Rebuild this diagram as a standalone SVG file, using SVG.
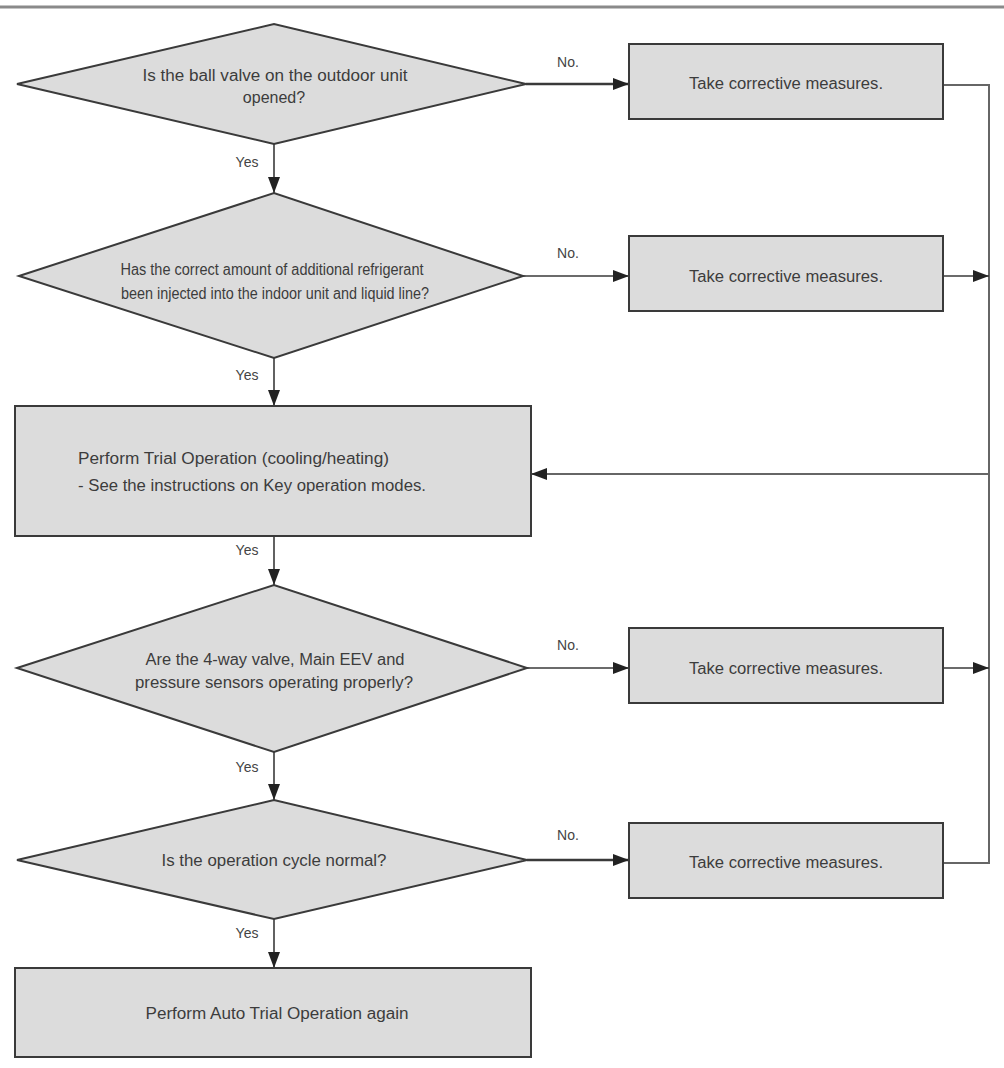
<svg xmlns="http://www.w3.org/2000/svg" width="1004" height="1068" viewBox="0 0 1004 1068">
<style>
.shape{fill:#dcdcdc;stroke:#3a3a3a;stroke-width:2}
.t{font-family:"Liberation Sans",Arial,sans-serif;font-size:16px;fill:#3c3c3c}
.c{text-anchor:middle}
.lbl{font-family:"Liberation Sans",Arial,sans-serif;font-size:14px;fill:#444;text-anchor:middle}
.ln{fill:none;stroke:#3a3a3a;stroke-width:1.6}
.thick{stroke-width:2.6}
.gray{stroke:#666;stroke-width:2}
</style>
<defs>
<marker id="ah" viewBox="0 0 16 12" refX="16" refY="6" markerWidth="16" markerHeight="12" markerUnits="userSpaceOnUse" orient="auto">
<path d="M0,0 L16,6 L0,12 Z" fill="#222"/>
</marker>
</defs>
<rect width="1004" height="1068" fill="#ffffff"/>
<line x1="0" y1="7" x2="1004" y2="7" stroke="#8a8a8a" stroke-width="3"/>

<g id="connectors">
<line class="ln" x1="274" y1="144" x2="274" y2="193" marker-end="url(#ah)"/>
<line class="ln thick" x1="526" y1="84" x2="629" y2="84" marker-end="url(#ah)"/>
<line class="ln" x1="523" y1="276" x2="629" y2="276" marker-end="url(#ah)"/>
<line class="ln" x1="274" y1="358" x2="274" y2="406" marker-end="url(#ah)"/>
<polyline class="ln gray" points="943,85 989,85 989,863 943,863"/>
<line class="ln" x1="943" y1="276" x2="989" y2="276" marker-end="url(#ah)"/>
<line class="ln" x1="943" y1="668" x2="989" y2="668" marker-end="url(#ah)"/>
<line class="ln gray" x1="989" y1="474" x2="531" y2="474" marker-end="url(#ah)"/>
<line class="ln" x1="274" y1="536" x2="274" y2="585" marker-end="url(#ah)"/>
<line class="ln" x1="527" y1="668" x2="629" y2="668" marker-end="url(#ah)"/>
<line class="ln" x1="274" y1="752" x2="274" y2="800" marker-end="url(#ah)"/>
<line class="ln thick" x1="527" y1="860" x2="629" y2="860" marker-end="url(#ah)"/>
<line class="ln" x1="274" y1="919" x2="274" y2="968" marker-end="url(#ah)"/>
<text class="lbl" x="247" y="167">Yes</text>
<text class="lbl" x="247" y="380">Yes</text>
<text class="lbl" x="247" y="555">Yes</text>
<text class="lbl" x="247" y="772">Yes</text>
<text class="lbl" x="247" y="938">Yes</text>
<text class="lbl" x="568" y="67">No.</text>
<text class="lbl" x="568" y="258">No.</text>
<text class="lbl" x="568" y="650">No.</text>
<text class="lbl" x="568" y="840">No.</text>
</g>

<g id="d1">
<polygon class="shape" points="17,84 274,24 526,84 274,144"/>
<text class="t c" x="275" y="81" textLength="265" lengthAdjust="spacingAndGlyphs">Is the ball valve on the outdoor unit</text>
<text class="t c" x="274" y="103">opened?</text>
</g>
<g id="r1">
<rect class="shape" x="629" y="44" width="314" height="75"/>
<text class="t c" x="786" y="89" textLength="194" lengthAdjust="spacingAndGlyphs">Take corrective measures.</text>
</g>

<g id="d2">
<polygon class="shape" points="19,276 274,193 523,276 274,358"/>
<text class="t c" x="272" y="275" textLength="303" lengthAdjust="spacingAndGlyphs">Has the correct amount of additional refrigerant</text>
<text class="t c" x="275" y="299" textLength="308" lengthAdjust="spacingAndGlyphs">been injected into the indoor unit and liquid line?</text>
</g>
<g id="r2">
<rect class="shape" x="629" y="236" width="314" height="75"/>
<text class="t c" x="786" y="282" textLength="194" lengthAdjust="spacingAndGlyphs">Take corrective measures.</text>
</g>

<g id="trial">
<rect class="shape" x="15" y="406" width="516" height="130"/>
<text class="t" x="78" y="464" textLength="311" lengthAdjust="spacingAndGlyphs">Perform Trial Operation (cooling/heating)</text>
<text class="t" x="78" y="491" textLength="348" lengthAdjust="spacingAndGlyphs">- See the instructions on Key operation modes.</text>
</g>

<g id="d3">
<polygon class="shape" points="17,668 274,585 527,668 274,752"/>
<text class="t c" x="275" y="665" textLength="259" lengthAdjust="spacingAndGlyphs">Are the 4-way valve, Main EEV and</text>
<text class="t c" x="274" y="688" textLength="278" lengthAdjust="spacingAndGlyphs">pressure sensors operating properly?</text>
</g>
<g id="r3">
<rect class="shape" x="629" y="628" width="314" height="75"/>
<text class="t c" x="786" y="674" textLength="194" lengthAdjust="spacingAndGlyphs">Take corrective measures.</text>
</g>

<g id="d4">
<polygon class="shape" points="17,860 274,800 527,860 274,919"/>
<text class="t c" x="274" y="866" textLength="225" lengthAdjust="spacingAndGlyphs">Is the operation cycle normal?</text>
</g>
<g id="r4">
<rect class="shape" x="629" y="823" width="314" height="75"/>
<text class="t c" x="786" y="868" textLength="194" lengthAdjust="spacingAndGlyphs">Take corrective measures.</text>
</g>

<g id="auto">
<rect class="shape" x="15" y="968" width="516" height="89"/>
<text class="t c" x="277" y="1019" textLength="263" lengthAdjust="spacingAndGlyphs">Perform Auto Trial Operation again</text>
</g>
</svg>
